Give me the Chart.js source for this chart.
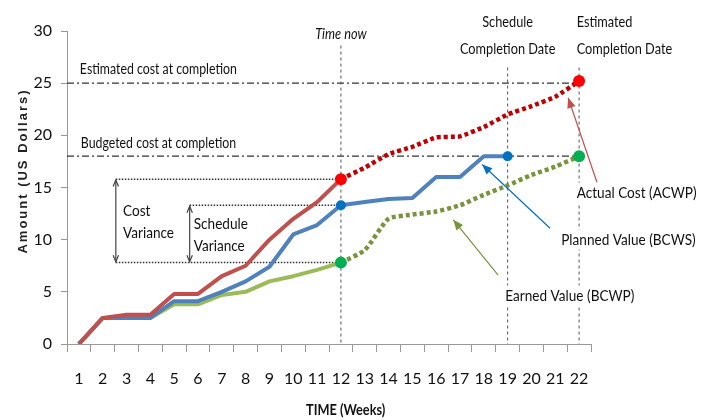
<!DOCTYPE html>
<html>
<head>
<meta charset="utf-8">
<script src="https://cdn.jsdelivr.net/npm/chart.js@4"></script>
<style>
  html, body { margin: 0; padding: 0; background: #fff; }
</style>
</head>
<body>
<canvas id="chart" width="711" height="420"></canvas>
<script>
// earned value chart

const weeks = ['1','2','3','4','5','6','7','8','9','10','11','12','13','14','15','16','17','18','19','20','21','22'];
const yTicks = [0, 5, 10, 15, 20, 25, 30];

// actual cost (ACWP) to date, then forecast
const acwpActual   = [0, 2.5, 2.8, 2.8, 4.8, 4.8, 6.5, 7.5, 10, 12, 13.6, 15.8];
const acwpForecast = [null, null, null, null, null, null, null, null, null, null, null, 15.8, 16.9, 18.2, 18.9, 19.8, 19.9, 20.8, 22, 22.8, 23.7, 25.2];
// planned value (BCWS)
const bcws = [0, 2.5, 2.5, 2.5, 4.1, 4.1, 5, 6, 7.4, 10.5, 11.4, 13.3, 13.6, 13.9, 14, 16, 16, 18, 18];
// earned value (BCWP) to date, then forecast
const bcwpActual   = [0, 2.5, 2.5, 2.5, 3.8, 3.8, 4.7, 5, 6, 6.5, 7.1, 7.8];
const bcwpForecast = [null, null, null, null, null, null, null, null, null, null, null, 7.8, 9.0, 12.0, 12.4, 12.7, 13.3, 14.3, 15.2, 16.2, 17.0, 18.0];

const estimatedCost = 25;
const budgetedCost = 18;
const timeNow = 12;
const scheduleEnd = 19;
const estimatedEnd = 22;

const FONT = 'Lato, "Liberation Sans", sans-serif';
const SX = 0.85;  // squeeze text a bit, the original font is narrow

// marker only on the given weeks
function marks(arr, wks, r) {
  return arr.map((v, i) => wks.includes(i + 1) ? r : 0);
}

function arrow(ctx, x1, y1, x2, y2, color, size, open) {
  const a = Math.atan2(y2 - y1, x2 - x1);
  ctx.save();
  ctx.strokeStyle = color;
  ctx.fillStyle = color;
  ctx.lineWidth = 1.2;
  ctx.beginPath();
  ctx.moveTo(x1, y1);
  ctx.lineTo(x2, y2);
  ctx.stroke();
  ctx.beginPath();
  ctx.moveTo(x2 - size * Math.cos(a - 0.4), y2 - size * Math.sin(a - 0.4));
  ctx.lineTo(x2, y2);
  ctx.lineTo(x2 - size * Math.cos(a + 0.4), y2 - size * Math.sin(a + 0.4));
  if (open) ctx.stroke(); else { ctx.closePath(); ctx.fill(); }
  ctx.restore();
}

function text(ctx, s, x, y, align, font, bg) {
  ctx.save();
  ctx.font = font;
  ctx.textAlign = align;
  ctx.textBaseline = 'middle';
  ctx.translate(x, y);
  ctx.scale(SX, 1);
  if (bg) {
    const w = ctx.measureText(s).width;
    const x0 = align === 'center' ? -w / 2 : (align === 'right' ? -w : 0);
    ctx.fillStyle = '#fff';
    ctx.fillRect(x0 - 4, -10, w + 8, 20);
  }
  ctx.fillStyle = '#111';
  ctx.fillText(s, 0, 0);
  ctx.restore();
}

// where the variance brackets sit (in weeks)
const costVarAt = 2.55;
const schedVarAt = 5.65;

const guides = {
  id: 'guides',
  beforeDatasetsDraw(chart) {
    const {ctx, chartArea, scales: {x, y}} = chart;
    const px = w => x.getPixelForValue(w - 1);
    ctx.save();
    // cost at completion lines (dash-dot)
    ctx.strokeStyle = '#333';
    ctx.lineWidth = 1.2;
    ctx.setLineDash([7, 3, 2, 3]);
    [estimatedCost, budgetedCost].forEach(v => {
      ctx.beginPath();
      ctx.moveTo(chartArea.left, y.getPixelForValue(v));
      ctx.lineTo(px(estimatedEnd), y.getPixelForValue(v));
      ctx.stroke();
    });
    // date lines
    ctx.strokeStyle = '#555';
    ctx.lineWidth = 1;
    ctx.setLineDash([3, 3]);
    [[timeNow, 28.6], [scheduleEnd, 26.5], [estimatedEnd, 26.5]].forEach(([w, top]) => {
      ctx.beginPath();
      ctx.moveTo(px(w), y.getPixelForValue(top));
      ctx.lineTo(px(w), chartArea.bottom);
      ctx.stroke();
    });
    // variance lines (dotted)
    ctx.strokeStyle = '#333';
    ctx.lineWidth = 1.5;
    ctx.setLineDash([1.5, 1.5]);
    [[costVarAt, acwpActual[11]], [schedVarAt, bcws[11]], [costVarAt, bcwpActual[11]]].forEach(([w, v]) => {
      ctx.beginPath();
      ctx.moveTo(px(w), y.getPixelForValue(v));
      ctx.lineTo(px(timeNow), y.getPixelForValue(v));
      ctx.stroke();
    });
    ctx.restore();
  },
  afterDatasetsDraw(chart) {
    const {ctx, chartArea, scales: {x, y}} = chart;
    const px = w => x.getPixelForValue(w - 1);
    const py = v => y.getPixelForValue(v);
    const F = '16px ' + FONT;
    const S = '14.5px ' + FONT;
    const M = '15px ' + FONT;

    // variance arrows
    [[costVarAt, acwpActual[11]], [schedVarAt, bcws[11]]].forEach(([w, v]) => {
      const xx = px(w), top = py(v), bot = py(bcwpActual[11]);
      const mid = (top + bot) / 2;
      arrow(ctx, xx, mid, xx, top + 1, '#444', 7, true);
      arrow(ctx, xx, mid, xx, bot - 1, '#444', 7, true);
    });
    text(ctx, 'Cost', px(2.85), py(12.75), 'left', F);
    text(ctx, 'Variance', px(2.85), py(10.7), 'left', F);
    text(ctx, 'Schedule', px(5.82), py(11.5), 'left', F);
    text(ctx, 'Variance', px(5.82), py(9.4), 'left', F);

    text(ctx, 'Estimated cost at completion', px(1.04), py(26.3), 'left', S);
    text(ctx, 'Budgeted cost at completion', px(1.08), py(19.2), 'left', S);
    text(ctx, 'Time now', px(timeNow), py(29.7), 'center', 'italic 15px ' + FONT);
    text(ctx, 'Schedule', px(scheduleEnd), py(30.85), 'center', M);
    text(ctx, 'Completion Date', px(scheduleEnd), py(28.25), 'center', M);
    text(ctx, 'Estimated', px(21.9), py(30.85), 'left', M);
    text(ctx, 'Completion Date', px(21.9), py(28.25), 'left', M);

    // callouts
    text(ctx, 'Actual Cost (ACWP)', px(21.9), py(14.5), 'left', F, true);
    text(ctx, 'Planned Value (BCWS)', px(21.25), py(10.0), 'left', F, true);
    text(ctx, 'Earned Value (BCWP)', px(18.9), py(4.65), 'left', F, true);
    arrow(ctx, px(22.75), py(15.5), px(21.54), py(23.6), '#c0504d', 11, false);
    arrow(ctx, px(20.78), py(11.1), px(17.93), py(17.2), '#0070c0', 11, false);
    arrow(ctx, px(18.6), py(6.6), px(16.72), py(11.9), '#77933c', 11, false);

    // axis titles
    text(ctx, 'TIME (Weeks)', px(12.2), 410, 'center', 'bold 15px ' + FONT);
    ctx.save();
    ctx.fillStyle = '#222';
    ctx.textAlign = 'center';
    ctx.textBaseline = 'middle';
    ctx.translate(23, 171);
    ctx.rotate(-Math.PI / 2);
    ctx.font = 'bold 13px "Liberation Sans", sans-serif';
    ctx.letterSpacing = '2px';
    ctx.fillText('Amount (US Dollars)', 0, 0);
    ctx.restore();
  }
};

const ctx = document.getElementById('chart');
new Chart(ctx, {
  type: 'line',
  data: {
    labels: weeks,
    datasets: [
      { label: 'ACWP', data: acwpActual, borderColor: '#c0504d', borderWidth: 4, pointRadius: 0, order: 1 },
      { label: 'ACWP forecast', data: acwpForecast, borderColor: '#c00000', borderWidth: 4.5, borderDash: [4, 3],
        pointRadius: marks(acwpForecast, [timeNow, estimatedEnd], 6), pointBackgroundColor: '#ff0000', pointBorderWidth: 0, tension: 0.15, order: 0 },
      { label: 'BCWS', data: bcws, borderColor: '#4f81bd', borderWidth: 4, tension: 0,
        pointRadius: marks(bcws, [timeNow, scheduleEnd], 5), pointBackgroundColor: '#0070c0', pointBorderWidth: 0, order: 2 },
      { label: 'BCWP', data: bcwpActual, borderColor: '#9bbb59', borderWidth: 4, pointRadius: 0, order: 4 },
      { label: 'BCWP forecast', data: bcwpForecast, borderColor: '#77933c', borderWidth: 4.5, borderDash: [4, 3],
        pointRadius: marks(bcwpForecast, [timeNow, estimatedEnd], 6), pointBackgroundColor: '#00b050', pointBorderWidth: 0, tension: 0.2, order: 3 }
    ]
  },
  options: {
    responsive: false,
    animation: false,
    layout: { padding: { top: 31, right: 120, left: 0, bottom: 0 } },
    plugins: { legend: { display: false }, tooltip: { enabled: false } },
    elements: { line: { borderJoinStyle: 'round', borderCapStyle: 'butt' } },
    scales: {
      x: {
        offset: true,
        grid: { drawOnChartArea: false, color: '#999', tickLength: 8, offset: true },
        border: { color: '#999' },
        ticks: { color: '#111', font: { family: FONT, size: 16 }, padding: 17, maxRotation: 0, autoSkip: false },
        afterFit: s => { s.height = 76; }
      },
      y: {
        min: 0, max: 30,
        afterBuildTicks: s => { s.ticks = yTicks.map(v => ({ value: v })); },
        grid: { drawOnChartArea: false, color: '#999', tickLength: 6 },
        border: { color: '#999' },
        ticks: { color: '#111', font: { family: FONT, size: 16 }, padding: 9 },
        afterFit: s => { s.width = 67; }
      }
    }
  },
  plugins: [guides]
});
</script>
</body>
</html>
